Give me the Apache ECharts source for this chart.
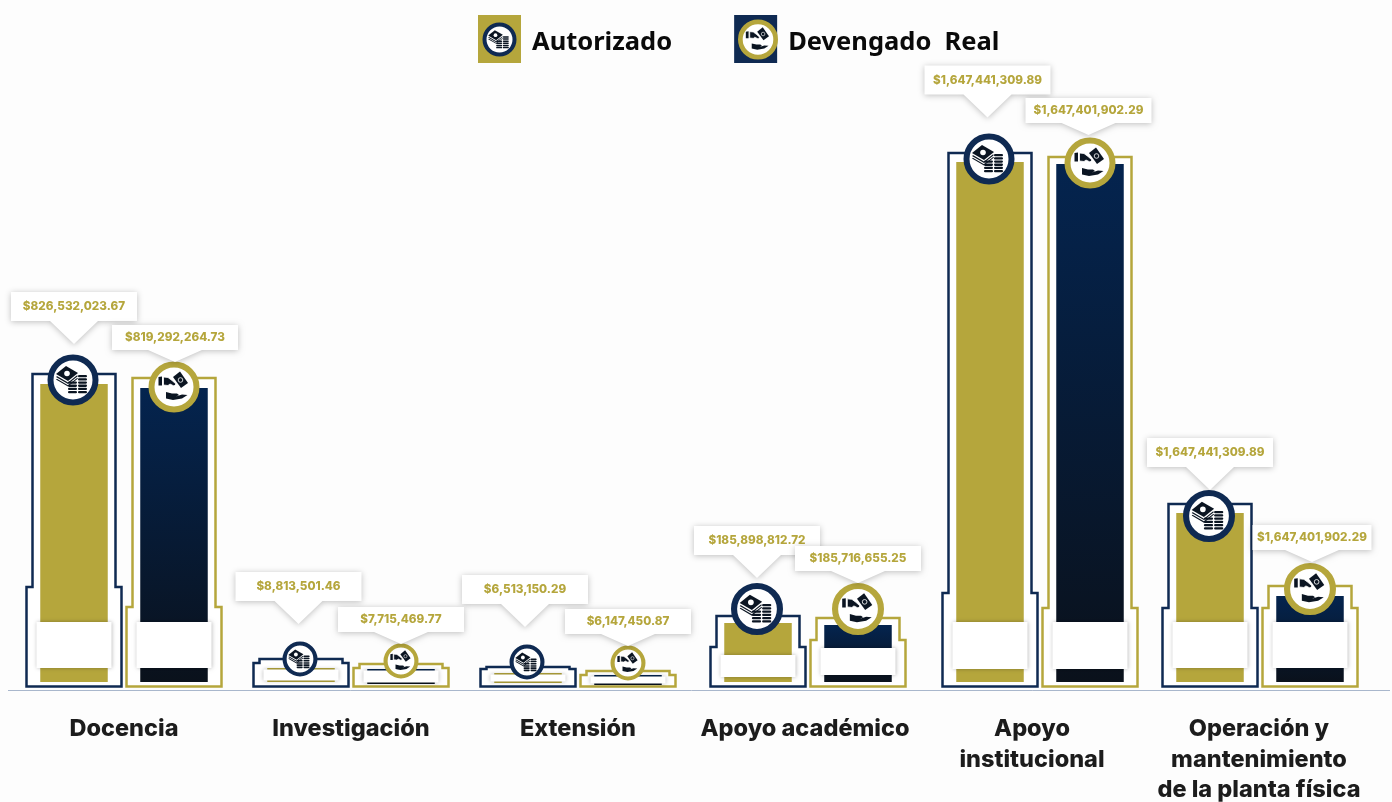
<!DOCTYPE html>
<html>
<head>
<meta charset="utf-8">
<title>Autorizado y Devengado Real</title>
<style>
	html,body{margin:0;padding:0;background:#fdfdfd;}
	#main{width:1392px;height:802px;}
</style>
<script src="https://cdn.jsdelivr.net/npm/echarts@6/dist/echarts.min.js"></script>
</head>
<body>
<div id="main"></div>
<script>
//datos
var categorias = ['Docencia', 'Investigación', 'Extensión', 'Apoyo académico', 'Apoyo\ninstitucional', 'Operación y\nmantenimiento\nde la planta física'];
//el dibujo original no va a escala con los montos, asi que la altura se lee de la imagen
var alturaAutorizado = [298, 14, 9, 59, 520, 169];
var alturaDevengado = [294, 13, 7, 57, 518, 86];
var montoAutorizado = ['$826,532,023.67', '$8,813,501.46', '$6,513,150.29', '$185,898,812.72', '$1,647,441,309.89', '$1,647,441,309.89'];
var montoDevengado = ['$819,292,264.73', '$7,715,469.77', '$6,147,450.87', '$185,716,655.25', '$1,647,401,902.29', '$1,647,401,902.29'];

//ajustes de dibujo, en px
var ORO = '#b5a63c', AZUL = '#0f2a52', OSCURO = '#0b1522';
var desplazaGrupo = [0, 0, 0, 3, 8, 1];
var ajusteA = {
	lado: -50, base: [0, 0, 1, 0, 0, 0],
	marco: [10, 9, 6, 7, 9, 9], escalon: [95, 19, 13, 35, 89, 74],
	panel: [[60, 14], [12.5, 1.5], [7.5, 0.5], [27, 5], [60, 13], [60, 14]],
	insigniaY: [-4, -9, -11, -14, -3, 3], insigniaR: [25.5, 17.5, 17.5, 26, 25.5, 26],
	globoY: [40, 44, 46, 45, 44.5, 23], globoX: [0, -2.5, -3, -1, -2.5, 0],
	globoAlto: 29, globoPico: 23, globoBase: 24, globoAncho: [126, 126, 126, 126, 126, 126]
};
var ajusteD = {
	lado: 50, base: [0, 2, 3, 0, 0, 0],
	marco: [10, 5, 4, 7, 7, 10], escalon: [75, 14, 7, 42, 74, 74],
	panel: [[60, 14], [11.5, -0.5], [5.5, -1.5], [34, 7], [60, 13], [60, 14]],
	insigniaY: [-1, -8, -12, -16, -1, -7], insigniaR: [25.5, 17.5, 17.5, 26, 25.5, 26],
	globoY: [26, 25, 29, 42, 29, 34], globoX: [1, 0, 0, 0, -1.5, 2],
	globoAlto: 25, globoPico: 12, globoBase: 27, globoAncho: [126, 126, 126, 126, 126, 119]
};

//icono de billetes y monedas (coordenadas para un radio de 25.5)
function iconoMonedas(cx, cy, r, color) {
	var s = r / 25.5, fig = [];
	function P(dy, fill) {
		fig.push({type: 'polygon', shape: {points: [[-17, -6 + dy], [-7, -14 + dy], [5, -7 + dy], [-5, 1 + dy]].map(function(p) {
			return [cx + p[0] * s, cy + p[1] * s];
		})}, style: {fill: fill}});
	}
	P(5.5, color); P(4.2, '#fff'); P(3, color); P(1.6, '#fff'); P(0, color);
	fig.push({type: 'circle', shape: {cx: cx - 6 * s, cy: cy - 6.5 * s, r: 2.8 * s}, style: {fill: '#fff'}});
	function pila(x, n) {
		for (var i = 0; i < n; i++) {
			fig.push({type: 'rect', shape: {x: cx + (x - 4.5) * s, y: cy + (11 - i * 3.2) * s, width: 9 * s, height: 2.3 * s, r: 1.1 * s}, style: {fill: color}});
		}
	}
	pila(-0.5, 4);
	pila(9.5, 6);
	return fig;
}

//icono de mano que recibe el billete
function iconoMano(cx, cy, r, color) {
	var s = r / 25.5;
	function pol(pts, fill, borde) {
		return {type: 'polygon', shape: {points: pts.map(function(p) {
			return [cx + p[0] * s, cy + p[1] * s];
		})}, style: {fill: fill, stroke: borde || null, lineWidth: 0.8 * s}};
	}
	return [
		pol([[-1, -10], [6, -15.5], [14, -4], [7, 1]], color),
		{type: 'circle', shape: {cx: cx + 6.5 * s, cy: cy - 7 * s, r: 2.3 * s}, style: {fill: color, stroke: '#fff', lineWidth: 0.8 * s}},
		pol([[-15.5, -10], [-12, -10.5], [-12, -1.5], [-15.5, -1.5]], color),
		pol([[-10.5, -10], [-6, -9.5], [-2, -6.5], [2, -3], [0, -1], [-4, -3], [-6, -1.5], [-10.5, -2]], color, '#fff'),
		pol([[-8, 5], [-2, 6.5], [3, 6.5], [5, 8], [2, 9.5], [8, 7.5], [13.5, 8], [8, 11.5], [-1, 13], [-8, 11.5]], color)
	];
}

function insignia(cx, cy, r, aro, icono) {
	var lista = [{
		type: 'circle',
		shape: {cx: cx, cy: cy, r: r - 3 * r / 25.5},
		style: {fill: '#fff', stroke: aro, lineWidth: 6 * r / 25.5}
	}];
	return lista.concat(icono(cx, cy, r, OSCURO));
}

//genera cada barra con su marco, panel, insignia y globo
function dibujaBarra(cfg, relleno, marcoColor, icono, montos) {
	return function(params, api) {
		var i = api.value(0);
		var c = api.coord([i, 0]);
		var x = c[0] + cfg.lado + desplazaGrupo[i];
		var base = c[1] + cfg.base[i];
		var sup = api.coord([i, api.value(1)])[1];
		var yMarco = sup - cfg.marco[i];
		var yEsc = c[1] - cfg.escalon[i];
		var yPie = c[1] + 4.5;
		var h1 = 41.5, h2 = 47.5;
		var panel = cfg.panel[i];
		var hijos = [];
		//marco escalonado
		hijos.push({
			type: 'polygon',
			shape: {points: [[x - h1, yMarco], [x + h1, yMarco], [x + h1, yEsc], [x + h2, yEsc], [x + h2, yPie], [x - h2, yPie], [x - h2, yEsc], [x - h1, yEsc]]},
			style: {fill: '#fff', stroke: marcoColor, lineWidth: 2.5}
		});
		//barra
		hijos.push({
			type: 'rect',
			shape: {x: x - 33.75, y: sup, width: 67.5, height: base - sup},
			style: {fill: relleno}
		});
		//panel blanco sobre la barra
		hijos.push({
			type: 'rect',
			shape: {x: x - 37.5, y: c[1] - panel[0], width: 75, height: panel[0] - panel[1]},
			style: {fill: '#fff', shadowBlur: 4, shadowColor: 'rgba(0,0,0,0.28)'}
		});
		hijos = hijos.concat(insignia(x + (cfg.lado < 0 ? -1 : 0), sup + cfg.insigniaY[i], cfg.insigniaR[i], cfg.lado < 0 ? AZUL : ORO, icono));
		//globo con el monto
		var px = x + cfg.globoX[i], py = sup - cfg.globoY[i];
		var a = cfg.globoAncho[i] / 2, yb = py - cfg.globoPico, yt = yb - cfg.globoAlto;
		hijos.push({
			type: 'polygon',
			shape: {points: [[px - a, yt], [px + a, yt], [px + a, yb], [px + cfg.globoBase, yb], [px, py], [px - cfg.globoBase, yb], [px - a, yb]]},
			style: {fill: '#fff', shadowBlur: 6, shadowColor: 'rgba(0,0,0,0.25)', shadowOffsetY: 1}
		});
		hijos.push({
			type: 'text',
			style: {
				x: px, y: (yt + yb) / 2, text: montos[i], fill: ORO,
				font: '800 11.7px Inter', textAlign: 'center', textVerticalAlign: 'middle'
			}
		});
		return {type: 'group', children: hijos};
	};
}

function filas(valores) {
	return valores.map(function(v, i) {
		return [i, v];
	});
}

//el z va en cada hijo para que la insignia quede sobre la leyenda
function sobreLeyenda(lista) {
	return lista.map(function(el) {
		el.z = 100;
		return el;
	});
}

var degradado = new echarts.graphic.LinearGradient(0, 0, 0, 1, [
	{offset: 0, color: '#04244f'},
	{offset: 1, color: '#0a111b'}
]);

var option = {
	backgroundColor: '#fdfdfd',
	animation: false,
	legend: {
		left: 473,
		top: 10,
		itemWidth: 43,
		itemHeight: 48,
		itemGap: 62,
		selectedMode: false,
		formatter: '{t|{name}}',
		textStyle: {
			rich: {
				t: {fontFamily: 'Noto Sans', fontWeight: 700, fontSize: 25.5, color: '#0a0a0a', padding: [8, 0, 0, 6]}
			}
		},
		data: [
			{name: 'Autorizado', icon: 'rect', itemStyle: {color: ORO}},
			{name: 'Devengado  Real', icon: 'rect', itemStyle: {color: AZUL}}
		]
	},
	grid: {left: 10.5, width: 1362, top: 0, height: 690, outerBoundsMode: 'none'},
	xAxis: {
		type: 'category',
		data: categorias,
		axisTick: {show: false},
		axisLine: {onZero: false, lineStyle: {color: '#a9b7cc', width: 1}},
		axisLabel: {
			interval: 0,
			margin: 24,
			fontFamily: 'Inter',
			fontWeight: 800,
			fontSize: 23.5,
			lineHeight: 30.5,
			color: '#1c1c1c',
			verticalAlign: 'top'
		}
	},
	yAxis: {type: 'value', min: -8, max: 682, show: false},
	graphic: {
		elements: [
			{type: 'line', shape: {x1: 1372, y1: 690.5, x2: 1390, y2: 690.5}, style: {stroke: '#a9b7cc', lineWidth: 1}},
			{type: 'line', shape: {x1: 8, y1: 690.5, x2: 11, y2: 690.5}, style: {stroke: '#a9b7cc', lineWidth: 1}},
			{type: 'group', children: sobreLeyenda(insignia(499.5, 39.5, 17, AZUL, iconoMonedas))},
			{type: 'group', children: sobreLeyenda(insignia(758, 39.5, 20, ORO, iconoMano))}
		]
	},
	series: [{
		name: 'Autorizado',
		type: 'custom',
		clip: false,
		itemStyle: {color: ORO},
		renderItem: dibujaBarra(ajusteA, ORO, AZUL, iconoMonedas, montoAutorizado),
		encode: {x: 0, y: 1},
		data: filas(alturaAutorizado)
	}, {
		name: 'Devengado  Real',
		type: 'custom',
		clip: false,
		itemStyle: {color: AZUL},
		renderItem: dibujaBarra(ajusteD, degradado, ORO, iconoMano, montoDevengado),
		encode: {x: 0, y: 1},
		data: filas(alturaDevengado)
	}]
};

var chart = echarts.init(document.getElementById('main'));
chart.setOption(option);
</script>
</body>
</html>
